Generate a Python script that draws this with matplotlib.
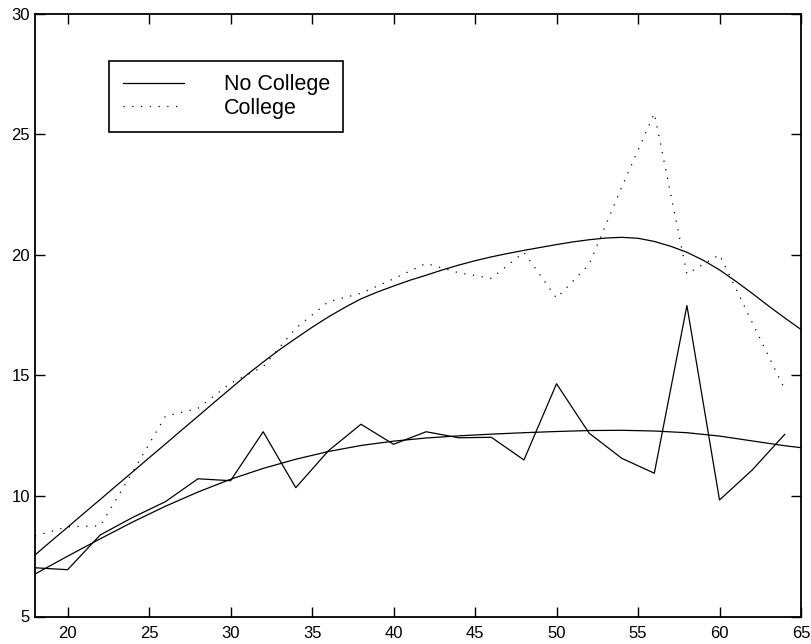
import matplotlib
matplotlib.use("Agg")
import matplotlib.pyplot as plt

plt.rcParams['font.family'] = ['Liberation Sans', 'DejaVu Sans']

# Raw series (even ages)
ages = [18, 20, 22, 24, 26, 28, 30, 32, 34, 36, 38, 40, 42, 44, 46, 48,
        50, 52, 54, 56, 58, 60, 62, 64]
no_college = [7.02, 6.94, 8.38, 9.11, 9.76, 10.71, 10.63, 12.66, 10.34, 11.87,
              12.97, 12.14, 12.66, 12.41, 12.43, 11.49, 14.65, 12.6, 11.56,
              10.94, 17.89, 9.83, 11.07, 12.55]
college = [8.34, 8.72, 8.76, 11.0, 13.3, 13.63, 14.67, 15.36, 16.95, 18.05,
           18.4, 19.0, 19.64, 19.25, 19.02, 20.1, 18.2, 19.6, 22.8, 25.86,
           19.2, 20.0, 17.2, 14.42]

# Smoothed profiles
smooth_ages_c = list(range(18, 66))
college_smooth = [7.55, 8.13, 8.70, 9.28, 9.85, 10.43, 11.0, 11.58, 12.15, 12.73,
                  13.3, 13.88, 14.45, 15.02, 15.55, 16.06, 16.53, 16.99, 17.42,
                  17.81, 18.17, 18.45, 18.7, 18.94, 19.15, 19.37, 19.57, 19.75,
                  19.91, 20.05, 20.18, 20.3, 20.42, 20.53, 20.62, 20.69, 20.72,
                  20.68, 20.55, 20.35, 20.1, 19.77, 19.37, 18.9, 18.4, 17.88,
                  17.38, 16.9]
smooth_ages_n = [18, 20, 22, 24, 26, 28, 30, 32, 34, 36, 38, 40, 42, 44, 46,
                 48, 50, 52, 54, 56, 58, 60, 62, 64, 65]
no_college_smooth = [6.76, 7.5, 8.22, 8.92, 9.57, 10.16, 10.69, 11.14, 11.52,
                     11.84, 12.09, 12.27, 12.4, 12.49, 12.56, 12.62, 12.67,
                     12.71, 12.72, 12.69, 12.62, 12.48, 12.28, 12.08, 12.0]

x_ticks = [20, 25, 30, 35, 40, 45, 50, 55, 60, 65]
y_ticks = [5, 10, 15, 20, 25, 30]

fig = plt.figure(figsize=(8.12, 6.44), dpi=100)
ax = fig.add_axes([35/812, 27.5/644, 766/812, 603/644])

lw = 0.9
ax.plot(ages, no_college, color='black', lw=lw, label='No College')
ax.plot(ages, college, color='black', lw=lw, linestyle=(0, (1, 6)), label='College')
ax.plot(smooth_ages_c, college_smooth, color='black', lw=lw)
ax.plot(smooth_ages_n, no_college_smooth, color='black', lw=lw)

ax.set_xlim(18, 65)
ax.set_ylim(5, 30)
ax.set_xticks(x_ticks)
ax.set_yticks(y_ticks)
ax.tick_params(direction='in', length=7, width=1, top=True, right=True,
               labelsize=12)
ax.tick_params(axis='x', pad=6.5)
ax.tick_params(axis='y', pad=3.5)
for s in ax.spines.values():
    s.set_linewidth(1.3)

leg = ax.legend(loc='upper left',
                bbox_to_anchor=((109.3 - 35) / 766, (616.5 - 60.7) / 603),
                borderaxespad=0, fontsize=15.5, frameon=True, fancybox=False,
                edgecolor='black', framealpha=1, handlelength=2.87,
                handletextpad=1.83, borderpad=0.62, labelspacing=0.12)
leg.get_frame().set_linewidth(1.2)
for h in leg.get_lines():
    h.set_linewidth(lw)

fig.savefig('out.png', dpi=100)
